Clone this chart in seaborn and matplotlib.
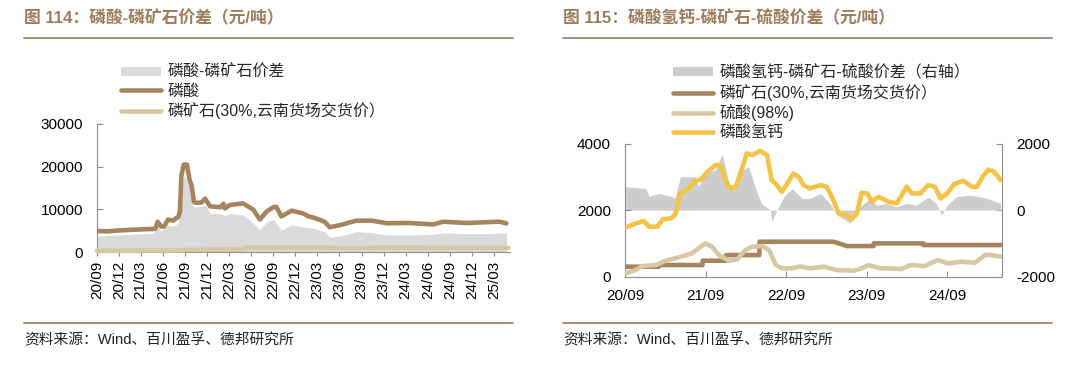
import matplotlib
matplotlib.use("Agg")
import matplotlib.pyplot as plt
import matplotlib.dates as mdates
from matplotlib.lines import Line2D
from matplotlib.patches import Patch
import pandas as pd
import seaborn as sns

# ---------------- data: left chart (磷酸-磷矿石价差) ----------------
acid_dates = ['2020-09-01','2020-10-15','2020-11-20','2021-01-01','2021-03-01','2021-04-22','2021-05-01',
              '2021-05-10','2021-05-25','2021-06-06','2021-06-22','2021-07-13','2021-08-04','2021-08-10',
              '2021-08-16','2021-08-26','2021-09-08','2021-09-19','2021-09-28','2021-10-07','2021-10-16',
              '2021-11-07','2021-11-22','2021-12-13','2022-01-25','2022-02-06','2022-02-12','2022-03-04',
              '2022-04-28','2022-06-10','2022-07-07','2022-08-04','2022-09-01','2022-09-13','2022-10-04',
              '2022-11-16','2023-01-04','2023-01-22','2023-02-12','2023-04-01','2023-04-22','2023-06-04',
              '2023-08-10','2023-10-13','2023-12-13','2024-03-19','2024-06-22','2024-08-04','2024-11-10',
              '2025-02-01','2025-03-25','2025-04-22']
acid_vals = [4900,4850,5000,5150,5300,5400,5500,7100,5950,6000,
             7600,7350,8300,9500,17800,20500,20500,17000,15400,11800,
             11500,11600,12500,10700,10500,11300,10200,11000,11400,9900,
             7600,9500,10500,10600,8350,9700,9000,8400,8100,7100,
             5800,6300,7350,7350,6750,6800,6450,7100,6800,7000,
             7100,6700]

spread1_dates = ['2020-09-01','2021-04-22','2021-05-10','2021-05-25','2021-06-22','2021-07-13','2021-08-04',
                 '2021-08-16','2021-08-28','2021-09-07','2021-09-19','2021-09-28','2021-10-07','2021-10-16',
                 '2021-11-22','2021-12-13','2022-01-25','2022-02-12','2022-03-04','2022-04-28','2022-06-10',
                 '2022-07-07','2022-08-04','2022-09-01','2022-10-04','2022-11-16','2023-01-04','2023-02-12',
                 '2023-04-01','2023-04-22','2023-06-04','2023-08-10','2023-10-13','2023-12-13','2024-03-19',
                 '2024-06-22','2024-08-04','2024-11-10','2025-02-01','2025-04-22']
spread1_vals = [3750,4400,5900,5000,6300,6000,6800,15000,18000,17000,
                15000,13500,10500,10600,11000,9100,9000,8500,9000,8700,
                6700,5150,7100,7650,5150,6340,5900,5560,4770,3450,
                3750,4770,4530,4000,4000,4150,4500,4300,4300,4500]

# ---------------- data: shared phosphate rock price ----------------
rock_dates = ['2020-09-01','2021-02-01','2021-02-02','2021-08-18','2021-08-19','2021-12-03','2021-12-04',
              '2022-05-03','2022-05-04','2023-04-05','2023-06-05','2023-10-03','2023-10-04','2024-05-15',
              '2024-05-16','2025-04-30']
rock_vals = [300,300,350,350,480,480,650,650,1050,1050,920,920,1000,1000,950,950]

# ---------------- data: right chart ----------------
dcp_dates = ['2020-09-04','2020-10-19','2020-11-25','2020-12-19','2021-01-25','2021-02-19','2021-03-25',
             '2021-04-16','2021-05-10','2021-06-10','2021-07-10','2021-08-10','2021-09-10','2021-10-16',
             '2021-11-07','2021-12-01','2021-12-22','2022-01-16','2022-02-16','2022-03-07','2022-04-01',
             '2022-05-07','2022-06-07','2022-06-28','2022-07-22','2022-08-13','2022-09-07','2022-10-04',
             '2022-10-28','2022-11-19','2022-12-19','2023-02-04','2023-03-04','2023-03-28','2023-04-28',
             '2023-06-04','2023-06-25','2023-07-19','2023-08-10','2023-09-04','2023-09-25','2023-10-25',
             '2023-12-10','2024-01-16','2024-03-01','2024-03-25','2024-05-01','2024-06-07','2024-07-07',
             '2024-08-01','2024-09-01','2024-10-01','2024-11-13','2024-12-22','2025-01-13','2025-02-13',
             '2025-03-07','2025-04-01','2025-05-01']
dcp_vals = [1480,1600,1670,1500,1500,1720,1750,1850,2500,2600,
            2850,2920,3150,3350,3350,2900,2650,2700,3300,3700,
            3650,3780,3650,2900,2750,2550,2800,3100,3000,2750,
            2650,2750,2700,2400,1900,1850,1720,1900,2520,2500,
            2250,2400,2250,2200,2700,2500,2500,2750,2700,2350,
            2500,2780,2880,2700,2700,3050,3220,3150,2900]

sulf_dates = ['2020-09-04','2020-10-19','2020-11-19','2021-01-19','2021-03-04','2021-05-01','2021-07-01',
              '2021-08-10','2021-09-01','2021-10-01','2021-11-01','2021-12-16','2022-01-22','2022-03-01',
              '2022-04-01','2022-05-16','2022-06-16','2022-07-16','2022-08-13','2022-09-28','2022-11-04',
              '2022-12-19','2023-02-19','2023-04-19','2023-07-04','2023-08-10','2023-09-10','2023-11-04',
              '2023-12-19','2024-02-04','2024-03-19','2024-05-19','2024-07-19','2024-09-04','2024-11-04',
              '2025-01-04','2025-02-19','2025-03-19','2025-05-01']
sulf_vals = [100,200,320,350,480,580,700,900,1000,900,
             650,480,520,800,900,920,800,360,250,250,
             310,250,300,200,180,250,350,250,250,230,
             350,320,500,400,450,420,650,650,600]

spread2_dates = ['2020-09-04','2020-12-04','2020-12-19','2021-02-04','2021-04-04','2021-04-16','2021-05-10',
                 '2021-07-16','2021-08-01','2021-09-01','2021-10-16','2021-11-16','2021-12-16','2022-01-07',
                 '2022-02-16','2022-03-16','2022-04-13','2022-05-13','2022-06-22','2022-06-28','2022-07-22',
                 '2022-08-22','2022-09-28','2022-11-13','2022-12-19','2023-02-04','2023-03-19','2023-04-19',
                 '2023-06-19','2023-07-19','2023-08-19','2023-09-19','2023-10-16','2023-12-01','2024-01-16',
                 '2024-03-01','2024-04-16','2024-06-07','2024-07-13','2024-08-07','2024-09-01','2024-10-13',
                 '2024-12-13','2025-01-28','2025-02-28','2025-05-01']
spread2_vals = [700,650,420,500,400,350,1000,1000,700,1160,
                1200,1700,800,700,1200,1300,700,200,0,-340,
                0,400,650,350,350,500,200,-140,-390,0,
                200,350,150,200,100,200,150,400,200,-150,
                150,400,450,400,350,200]

left_title = "图 114：磷酸-磷矿石价差（元/吨）"
right_title = "图 115：磷酸氢钙-磷矿石-硫酸价差（元/吨）"
left_labels = ["磷酸-磷矿石价差", "磷酸", "磷矿石(30%,云南货场交货价）"]
right_labels = ["磷酸氢钙-磷矿石-硫酸价差（右轴）", "磷矿石(30%,云南货场交货价）", "硫酸(98%)", "磷酸氢钙"]
source_text = "资料来源：Wind、百川盈孚、德邦研究所"

# ---------------- style ----------------
sns.set_theme(style="white")
plt.rcParams['font.family'] = ['Liberation Sans', 'Noto Sans CJK SC']
plt.rcParams['axes.unicode_minus'] = False

C_GRAY1 = '#DADADA'
C_GRAY2 = '#CDCDCD'
C_BROWN = '#A6845E'
C_BEIGE = '#D7C8A3'
C_YELLOW = '#F4C244'
C_TITLE = '#9E7C5A'
C_SPINE = '#8C8C8C'
LW = 3.3

W, H = 1080, 365
fig = plt.figure(figsize=(W / 100, H / 100), dpi=100)
fig.patch.set_facecolor('white')

def fx(px):
    return px / W

def fy(py):
    return 1 - py / H

xstart = pd.Timestamp('2020-09-01')
xend = pd.Timestamp('2025-05-07')

# ---------------- left chart ----------------
axL = fig.add_axes([fx(97), fy(252), fx(510) - fx(97), fy(124) - fy(252)])
axL.fill_between(pd.to_datetime(spread1_dates), spread1_vals, 0, color=C_GRAY1, lw=0, zorder=1)
sns.lineplot(x=pd.to_datetime(rock_dates), y=rock_vals, ax=axL, color=C_BEIGE, lw=LW,
             zorder=3, clip_on=False)
sns.lineplot(x=pd.to_datetime(acid_dates), y=acid_vals, ax=axL, color=C_BROWN, lw=LW, zorder=4)
axL.set_xlim(xstart, xend)
axL.set_ylim(0, 30000)
axL.set_yticks([0, 10000, 20000, 30000])
axL.xaxis.set_major_locator(mdates.MonthLocator(bymonth=[3, 6, 9, 12]))
axL.xaxis.set_major_formatter(mdates.DateFormatter('%y/%m'))
axL.set_xlabel('')
axL.set_ylabel('')
for s in ['top', 'right']:
    axL.spines[s].set_visible(False)
for s in ['left', 'bottom']:
    axL.spines[s].set_color(C_SPINE)
    axL.spines[s].set_linewidth(0.8)
axL.tick_params(axis='y', direction='in', length=4, width=0.8, color=C_SPINE,
                labelsize=11, labelcolor='black', pad=10, left=True)
axL.tick_params(axis='x', direction='out', length=3, width=0.8, color=C_SPINE,
                labelsize=11, labelcolor='black', rotation=90, pad=3, bottom=True)
axL.set_facecolor('white')

# ---------------- right chart ----------------
axR = fig.add_axes([fx(625), fy(276.7), fx(1002) - fx(625), fy(143.5) - fy(276.7)])
axR2 = axR.twinx()
axR2.fill_between(pd.to_datetime(spread2_dates), spread2_vals, 0, color=C_GRAY2, lw=0)
axR2.set_ylim(-2000, 2000)
axR2.set_yticks([-2000, 0, 2000])
axR.set_zorder(axR2.get_zorder() + 1)
axR.patch.set_visible(False)
sns.lineplot(x=pd.to_datetime(rock_dates), y=rock_vals, ax=axR, color=C_BROWN, lw=LW, zorder=3)
sns.lineplot(x=pd.to_datetime(sulf_dates), y=sulf_vals, ax=axR, color=C_BEIGE, lw=LW, zorder=3)
sns.lineplot(x=pd.to_datetime(dcp_dates), y=dcp_vals, ax=axR, color=C_YELLOW, lw=LW, zorder=4)
axR.set_xlim(xstart, xend)
axR.set_ylim(0, 4000)
axR.set_yticks([0, 2000, 4000])
axR.xaxis.set_major_locator(mdates.MonthLocator(bymonth=[9]))
axR.xaxis.set_major_formatter(mdates.DateFormatter('%y/%m'))
axR.set_xlabel('')
axR.set_ylabel('')
for s in ['top', 'right']:
    axR.spines[s].set_visible(False)
for s in ['left', 'bottom']:
    axR.spines[s].set_color(C_SPINE)
    axR.spines[s].set_linewidth(0.8)
for s in ['top', 'left', 'bottom']:
    axR2.spines[s].set_visible(False)
axR2.spines['right'].set_color(C_SPINE)
axR2.spines['right'].set_linewidth(0.8)
axR.tick_params(axis='y', direction='in', length=4, width=0.8, color=C_SPINE,
                labelsize=11, labelcolor='black', pad=10, left=True)
axR.tick_params(axis='x', direction='in', length=4, width=0.8, color=C_SPINE,
                labelsize=11, labelcolor='black', pad=9, bottom=True)
axR2.tick_params(axis='y', direction='in', length=4, width=0.8, color=C_SPINE,
                 labelsize=11, labelcolor='black', pad=10, right=True)
axR2.grid(False)
axR.grid(False)
axL.grid(False)

# ---------------- titles, rules, legends, source ----------------
fig.text(fx(24), fy(18), left_title, fontsize=12.1, fontweight='bold', color=C_TITLE,
         ha='left', va='center')
fig.text(fx(563), fy(18), right_title, fontsize=12.1, fontweight='bold', color=C_TITLE,
         ha='left', va='center')
for x0, x1 in [(24, 513), (563, 1052)]:
    fig.add_artist(Line2D([fx(x0), fx(x1)], [fy(38), fy(38)], transform=fig.transFigure,
                          color='#A08465', lw=1.3))
    fig.add_artist(Line2D([fx(x0), fx(x1)], [fy(323), fy(323)], transform=fig.transFigure,
                          color='#A08465', lw=1.3))
fig.text(fx(24), fy(340), source_text, fontsize=10.6, color='#222222', ha='left', va='center')
fig.text(fx(563), fy(340), source_text, fontsize=10.6, color='#222222', ha='left', va='center')

hL = [Patch(facecolor=C_GRAY1, edgecolor='none'),
      Line2D([], [], color=C_BROWN, lw=LW),
      Line2D([], [], color=C_BEIGE, lw=LW)]
fig.legend(hL, left_labels, loc='upper left', bbox_to_anchor=(fx(121), fy(65)),
           frameon=False, fontsize=11.5, handlelength=2.5, handleheight=0.5, handletextpad=0.4,
           labelspacing=0.22, borderpad=0, borderaxespad=0)
hR = [Patch(facecolor=C_GRAY2, edgecolor='none'),
      Line2D([], [], color=C_BROWN, lw=LW),
      Line2D([], [], color=C_BEIGE, lw=LW),
      Line2D([], [], color=C_YELLOW, lw=LW)]
fig.legend(hR, right_labels, loc='upper left', bbox_to_anchor=(fx(673), fy(65)),
           frameon=False, fontsize=11.5, handlelength=2.5, handleheight=0.5, handletextpad=0.4,
           labelspacing=0.22, borderpad=0, borderaxespad=0)

fig.savefig('out.png', dpi=100, facecolor='white')
